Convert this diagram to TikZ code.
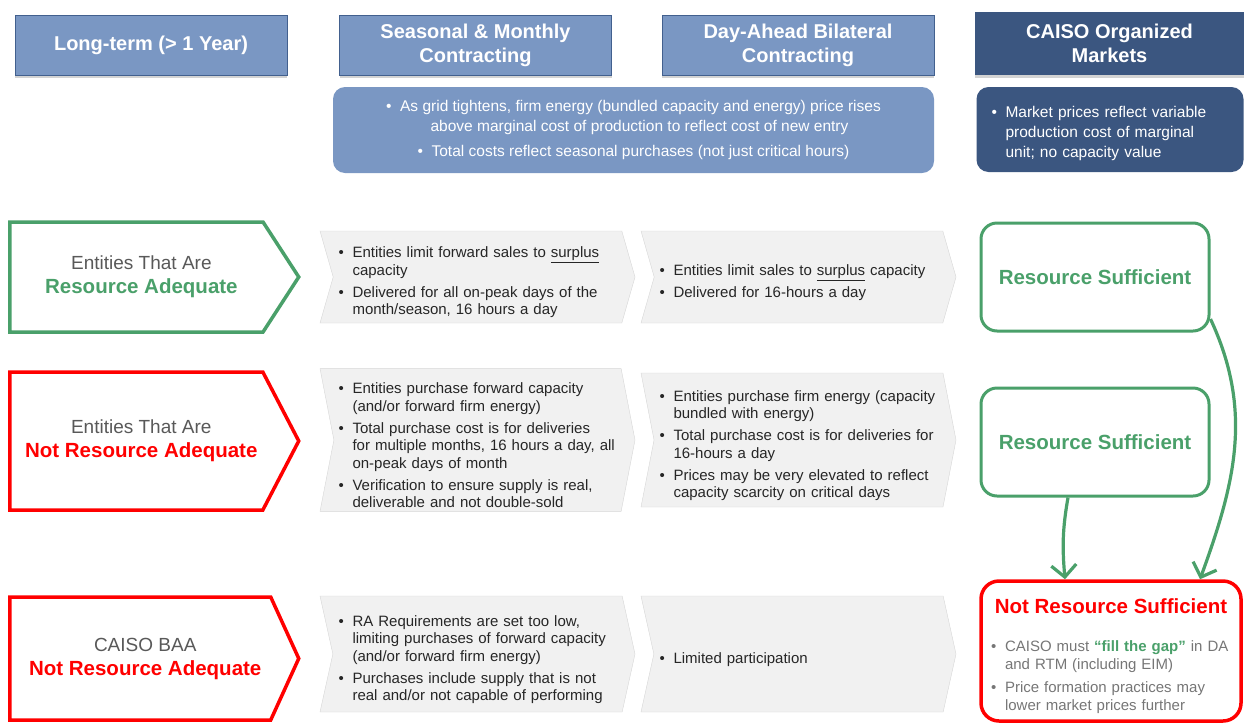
\documentclass[tikz,border=0pt]{standalone}
\usepackage{fontspec}
\setmainfont{Liberation Sans}
\usepackage{xcolor}
\usepackage{tikz}
\usetikzlibrary{arrows.meta,shapes.symbols,positioning,shadows}

\definecolor{hdrblue}{RGB}{122,151,195}
\definecolor{hdrline}{RGB}{66,96,142}
\definecolor{hdrnavy}{RGB}{59,86,128}
\definecolor{rsgreen}{RGB}{74,160,106}
\definecolor{chevfill}{RGB}{241,241,241}
\definecolor{chevline}{RGB}{214,214,214}
\definecolor{bodytext}{RGB}{38,38,38}
\definecolor{labelgray}{RGB}{89,89,89}
\definecolor{notegray}{RGB}{118,118,118}

% bullet with hanging indent (break lines with \newline, not \\)
\newcommand{\bul}[1]{\par\hangindent=14pt\hangafter=1\noindent\makebox[14pt][l]{\textbullet}#1\par}

\begin{document}
\begin{tikzpicture}[x=1pt, y=1pt,
  every node/.style={font=\fontsize{15}{17.5}\selectfont},
  hdr/.style={draw=hdrline, fill=hdrblue, minimum width=272pt, minimum height=60pt,
              text=white, align=center, font=\fontsize{20}{24}\selectfont\bfseries,
              drop shadow={shadow xshift=0pt, shadow yshift=-2.5pt, opacity=0.35}},
  mkt/.style={hdr, draw=none, fill=hdrnavy, drop shadow={opacity=0}},
  infobox/.style={fill=hdrblue, rounded corners=12pt, text=white, align=center,
                  font=\fontsize{15.5}{20}\selectfont},
  navybox/.style={fill=hdrnavy, rounded corners=12pt, text=white, text width=237pt,
                  align=left, inner xsep=15pt, minimum height=85pt,
                  font=\fontsize{15.5}{20}\selectfont},
  pent/.style={shape=signal, signal to=east, fill=white, line width=3.5pt,
               minimum width=289pt, align=center, text=labelgray,
               font=\fontsize{19}{24}\selectfont},
  chev/.style={shape=signal, signal from=west, signal to=east, fill=chevfill,
               draw=chevline, text=bodytext, text width=278pt, align=left,
               inner xsep=4pt, minimum width=315pt,
               execute at begin node={\setlength{\parskip}{4.5pt}}},
  suff/.style={draw=rsgreen, line width=3pt, rounded corners=16pt,
               minimum width=228pt, minimum height=108pt, text=rsgreen,
               font=\fontsize{20.5}{24}\selectfont\bfseries},
  notsuff/.style={draw=red, line width=3.5pt, rounded corners=18pt,
                  minimum width=260pt, minimum height=140pt},
  flow/.style={draw=rsgreen, line width=3.2pt,
               -{Straight Barb[length=12pt, width=25pt]}},
]
\useasboundingbox (0,0) rectangle (1244,-726);

%% -- column headers --
\node[hdr] (longterm) at (151,-45)   {Long-term (> 1 Year)};
\node[hdr] (seasonal) at (475.5,-45) {Seasonal \& Monthly\\Contracting};
\node[hdr] (dayahead) at (798,-45)   {Day-Ahead Bilateral\\Contracting};
\node[mkt, minimum width=269pt, minimum height=63pt] (caiso) at (1109.5,-43.5)
  {CAISO Organized\\Markets};

%% -- price notes --
\node[infobox, minimum width=601pt, minimum height=86pt] (bilatnote) at (633.5,-130)
  {\textbullet\ \ As grid tightens, firm energy (bundled capacity and energy) price rises\\
   \hspace{12pt}above marginal cost of production to reflect cost of new entry\\[5pt]
   \textbullet\ \ Total costs reflect seasonal purchases (not just critical hours)};
\node[navybox] (mktnote) at (1110,-129.5)
  {\bul{Market prices reflect variable\newline production cost of marginal\newline unit; no capacity value}};

%% -- row 1: resource adequate entities --
\node[pent, draw=rsgreen, minimum height=110pt, signal pointer angle=114,
      anchor=west] (ra) at (8,-277)
  {\hspace*{10pt}Entities That Are\\\hspace*{10pt}\textcolor{rsgreen}{\fontsize{20.5}{24}\selectfont\bfseries Resource Adequate}};
\node[chev, minimum height=92pt, signal pointer angle=148] (ra-season) at (477.5,-277)
  {\bul{Entities limit forward sales to \underline{surplus}\newline capacity}
   \bul{Delivered for all on-peak days of the\newline month/season, 16 hours a day}};
\node[chev, minimum height=92pt, signal pointer angle=148] (ra-day) at (798.5,-277)
  {\bul{Entities limit sales to \underline{surplus} capacity}
   \bul{Delivered for 16-hours a day}};
\node[suff] (rs1) at (1095,-277) {Resource Sufficient};

%% -- row 2: entities that are not adequate --
\node[pent, draw=red, minimum height=138pt, signal pointer angle=125,
      anchor=west] (nra) at (8,-441)
  {\hspace*{10pt}Entities That Are\\\hspace*{10pt}\textcolor{red}{\fontsize{20.5}{24}\selectfont\bfseries Not Resource Adequate}};
\node[chev, minimum height=134pt, signal pointer angle=158] (nra-season) at (477.5,-440)
  {\bul{Entities purchase forward capacity\newline (and/or forward firm energy)}
   \bul{Total purchase cost is for deliveries\newline for multiple months, 16 hours a day, all\newline on-peak days of month}
   \bul{Verification to ensure supply is real,\newline deliverable and not double-sold}};
\node[chev, minimum height=134pt, signal pointer angle=158] (nra-day) at (798.5,-440)
  {\bul{Entities purchase firm energy (capacity\newline bundled with energy)}
   \bul{Total purchase cost is for deliveries for\newline 16-hours a day}
   \bul{Prices may be very elevated to reflect\newline capacity scarcity on critical days}};
\node[suff] (rs2) at (1095,-442) {Resource Sufficient};

%% -- row 3: CAISO balancing area --
\node[pent, draw=red, minimum height=123pt, signal pointer angle=131,
      anchor=west] (baa) at (8,-658.5)
  {\hspace*{10pt}CAISO BAA\\\hspace*{10pt}\textcolor{red}{\fontsize{20.5}{24}\selectfont\bfseries Not Resource Adequate}};
\node[chev, minimum height=116pt, signal pointer angle=155] (baa-season) at (477.5,-654)
  {\bul{RA Requirements are set too low,\newline limiting purchases of forward capacity\newline (and/or forward firm energy)}
   \bul{Purchases include supply that is not\newline real and/or not capable of performing}};
\node[chev, minimum height=116pt, signal pointer angle=155] (baa-day) at (798.5,-654)
  {\bul{Limited participation}};

\node[notsuff] (nrs) at (1111,-651) {};
\node[below=19pt of nrs.north, inner sep=0pt, text=red,
      font=\fontsize{20.5}{24}\selectfont\bfseries] (nrstitle) {Not Resource Sufficient};
\node[below=15pt of nrstitle, inner sep=0pt, text=notegray, text width=240pt, align=left,
      font=\fontsize{15}{18}\selectfont,
      execute at begin node={\setlength{\parskip}{5pt}}] (nrsnotes)
  {\bul{CAISO must \textcolor{rsgreen}{\bfseries “fill the gap”} in DA\newline and RTM (including EIM)}
   \bul{Price formation practices may\newline lower market prices further}};

%% -- flows into the CAISO markets --
\draw[flow] ([xshift=-27pt]rs2.south) to[out=-100, in=95] ([xshift=-46pt]nrs.north);
\draw[flow] (rs1.-20) to[out=-65, in=70] ([xshift=89pt]nrs.north);

\end{tikzpicture}
\end{document}
